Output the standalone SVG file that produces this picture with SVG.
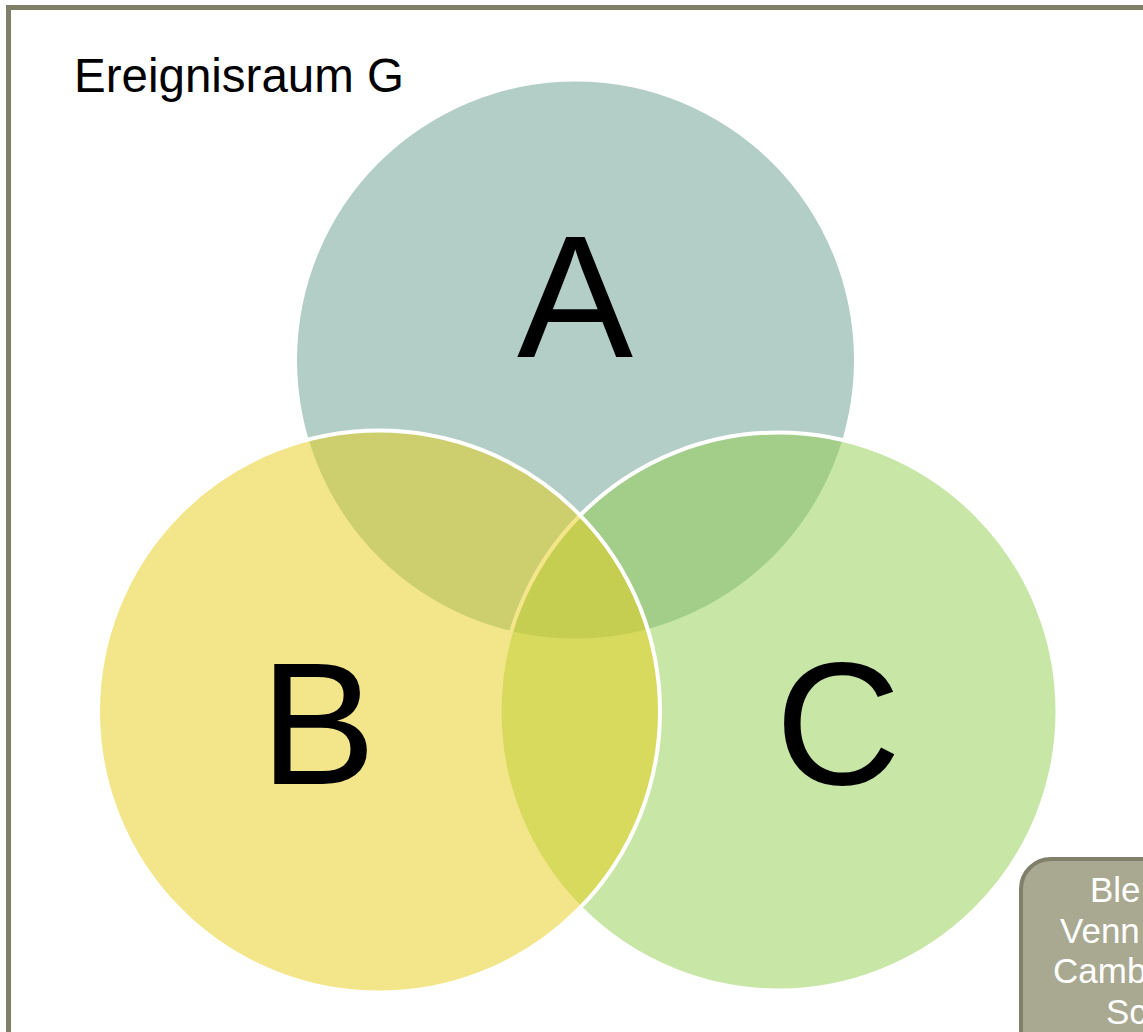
<svg xmlns="http://www.w3.org/2000/svg" width="1143" height="1032" viewBox="0 0 1143 1032">
<style>
.lbl{font-family:"Liberation Sans",Arial,sans-serif;fill:#000}
.big{font-size:174px;text-anchor:middle}
.note{font-family:"Liberation Sans",Arial,sans-serif;font-size:35px;fill:#fff}
.ring{stroke:#fff;stroke-width:4;fill-opacity:0.5}
</style>
<rect width="1143" height="1032" fill="#fff"/>
<g id="frame">
<rect x="8.5" y="7.5" width="1200" height="1100" fill="none" stroke="#7f7f6a" stroke-width="5"/>
<text class="lbl" x="74" y="92" font-size="47.5">Ereignisraum G</text>
</g>
<g id="circleA">
<circle cx="575.5" cy="360" r="278.5" fill="#b2cec6"/>
</g>
<g id="circleC">
<circle class="ring" cx="778.5" cy="711.5" r="279" fill="#91cd4d"/>
</g>
<g id="circleB">
<circle class="ring" cx="379" cy="711.5" r="281" fill="#e7cd15"/>
</g>
<g id="labels">
<text class="lbl big" x="575" y="357">A</text>
<text class="lbl big" x="318" y="784">B</text>
<text class="lbl big" x="838" y="784">C</text>
</g>
<g id="note">
<rect x="1021" y="859" width="200" height="220" rx="30" ry="30" fill="#a9a991" stroke="#7f7f6a" stroke-width="4"/>
<text class="note" x="1090" y="902">Ble</text>
<text class="note" x="1060" y="943">Venn</text>
<text class="note" x="1053" y="983">Camb</text>
<text class="note" x="1106" y="1024">Sc</text>
</g>
<g id="connectors"></g>
</svg>
